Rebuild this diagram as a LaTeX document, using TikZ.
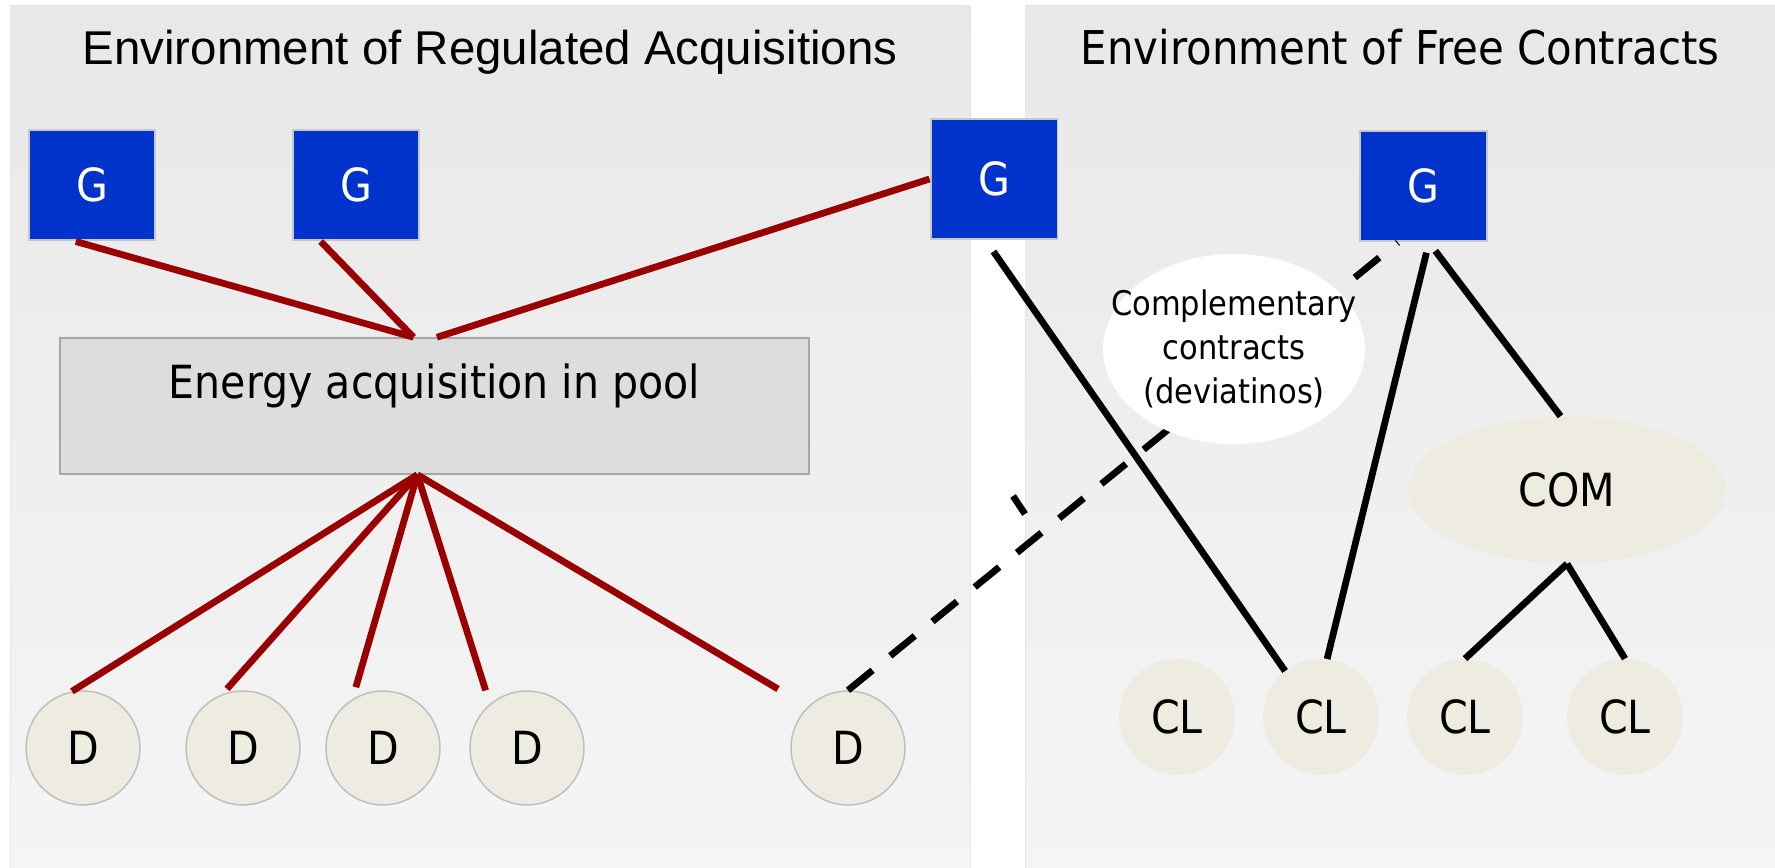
\documentclass[tikz,border=0pt]{standalone}
\usepackage{fontspec}
\setmainfont{DejaVu Sans}[FakeStretch=0.9]
\newfontfamily\titlefont{Liberation Sans}
\usepackage{tikz}
\usetikzlibrary{shapes.geometric}

\definecolor{genblue}{HTML}{0033CC}
\definecolor{poolred}{HTML}{990000}
\definecolor{tan}{HTML}{EEECE1}
\definecolor{poolgray}{HTML}{DDDDDD}
\definecolor{envedge}{HTML}{E9E6DA}

\tikzset{
	big/.style={font=\fontsize{26}{30}\selectfont},
	env/.style={top color=black!9, bottom color=black!4, draw=envedge, line width=0.02cm},
	gen/.style={shape=rectangle, fill=genblue, draw=black!22, line width=0.04cm, text=white, minimum width=2.54cm, minimum height=2.22cm, inner sep=0pt, big},
	cons/.style={shape=circle, fill=tan, draw=black!25, line width=0.03cm, minimum size=2.28cm, inner sep=0pt, big},
	cli/.style={shape=circle, fill=tan, minimum size=2.32cm, inner sep=0pt, big},
	regline/.style={color=poolred, line width=0.135cm},
	freeline/.style={color=black, line width=0.135cm},
}

\begin{document}
\begin{tikzpicture}[x=0.02cm, y=-0.02cm]
	
	\useasboundingbox (0,0) rectangle (1775,868);
	
	% the two environments
	\path[env] (10,6) rectangle (970,868);
	\path[env] (1025,6) rectangle (1775,868);
	\node[font=\titlefont\fontsize{27}{32}\selectfont, anchor=base] (regTitle) at (490,65) {Environment of Regulated Acquisitions};
	\node[font=\fontsize{26.5}{30}\selectfont, anchor=base] (freeTitle) at (1400,65) {Environment of Free Contracts};
	
	\node[gen] (G1) at (92,185)     {G};
	\node[gen] (G2) at (356,185)    {G};
	\node[gen, minimum height=2.4cm] (G3) at (994,179)    {G};
	\node[gen] (G4) at (1423,186)   {G};
	
	\node[shape=rectangle, fill=poolgray, draw=black!35, line width=0.03cm, minimum width=14.98cm, minimum height=2.72cm, text height=0.7cm, text depth=1.02cm, big] (pool) at (434.5,406) {Energy acquisition in pool};
	
	\node[cons] (D1) at (83,748)    {D};
	\node[cons] (D2) at (243,748)   {D};
	\node[cons] (D3) at (383,748)   {D};
	\node[cons] (D4) at (527,748)   {D};
	\node[cons] (D5) at (848,748)   {D};
	\coordinate (d5end) at (778,689);
	
	\node[shape=ellipse, fill=tan, minimum width=6.36cm, minimum height=2.94cm, big] (COM) at (1567,490) {COM};
	\node[cli] (CL1) at (1177,717)  {CL};
	\node[cli] (CL2) at (1321,717)  {CL};
	\node[cli] (CL3) at (1465,717)  {CL};
	\node[cli] (CL4) at (1625,717)  {CL};
	
	% pool
	\path[regline] (G1.-106) edge (pool.107);
	\path[regline] (G2.-122) edge (pool.107);
	\path[regline] (G3.west) edge (pool.88);
	\path[regline] (pool.-104) edge (D1.101);
	\path[regline] (pool.-104) edge[shorten >=4pt] (D2.111);
	\path[regline] (pool.-104) edge[shorten >=7pt] (D3.122);
	\path[regline] (pool.-104) edge[shorten >=8pt] (D4.130);
	\path[regline] (pool.-104) edge (d5end);
	
	% free contracts
	\path[freeline] (G3.-98) edge[shorten <=8pt] (CL2.128);
	\path[freeline] (G4.-84) edge[shorten <=6pt] (CL2.84);
	\path[freeline] (G4.-84) edge[shorten <=6pt] (COM.95);
	\path[freeline] (COM.south) edge (CL3.north);
	\path[freeline] (COM.south) edge (CL4.north);
	\path[freeline, dash pattern=on 18pt off 13pt] (D5.north) edge (G4.-114);
	\draw[freeline] (1013,496) -- (1025,514);
	
	\node[shape=ellipse, fill=white, minimum width=5.24cm, minimum height=3.8cm, inner xsep=-0.75cm, inner ysep=0pt, align=center, font=\fontsize{19.3}{24.9}\selectfont] (comp) at (1234,349) {Complementary\\contracts\\(deviatinos)};
	
\end{tikzpicture}
\end{document}
